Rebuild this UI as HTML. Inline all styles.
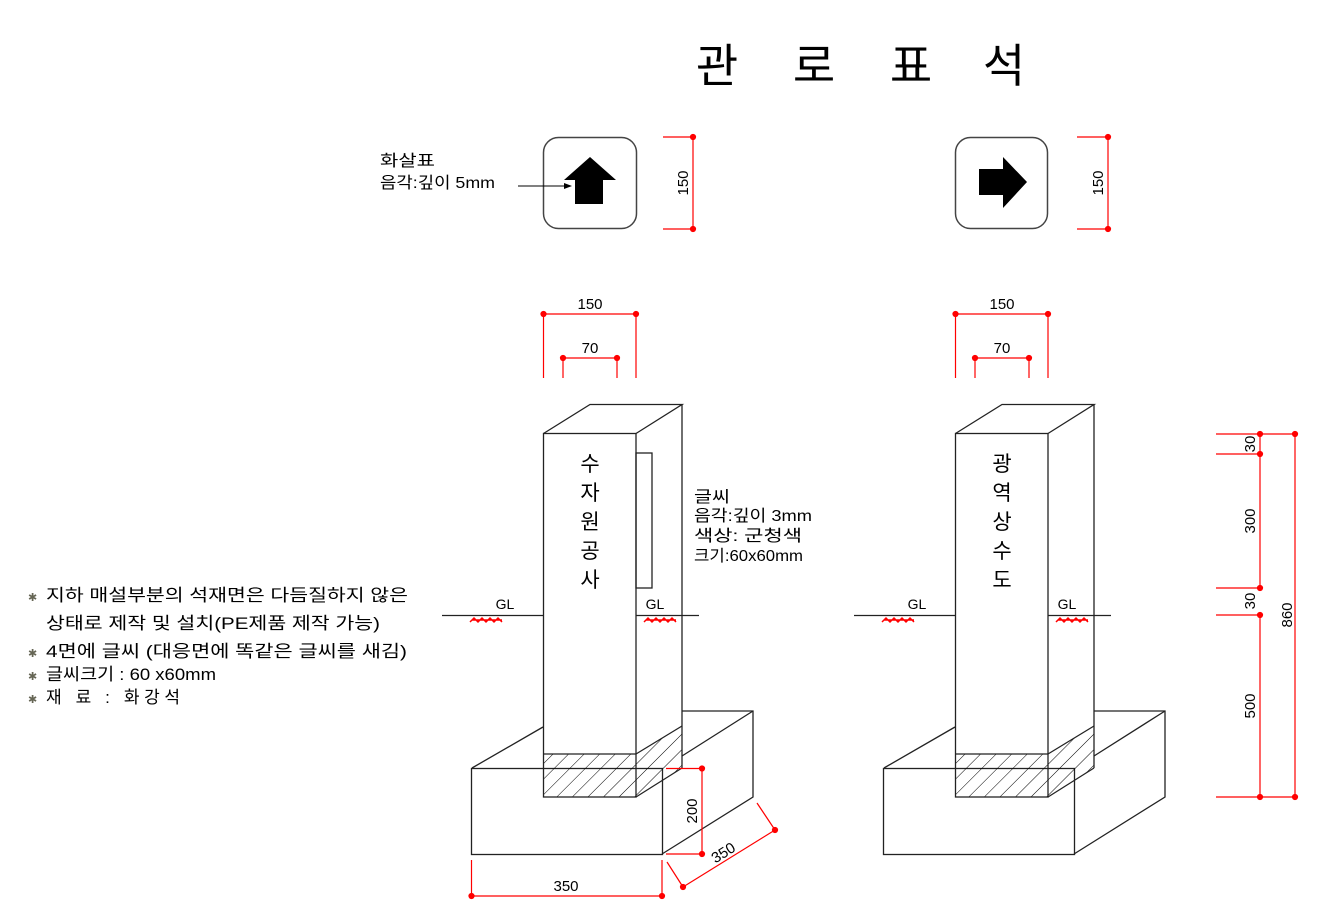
<!DOCTYPE html>
<html><head><meta charset="utf-8"><style>
html,body{margin:0;padding:0;background:#fff;}
svg{display:block;font-family:"Liberation Sans","Noto Sans CJK KR",sans-serif;}
</style></head><body>
<svg width="1341" height="923" viewBox="0 0 1341 923" xmlns="http://www.w3.org/2000/svg">
<defs>
<pattern id="h" patternUnits="userSpaceOnUse" width="11" height="11" patternTransform="rotate(45)">
<line x1="0" y1="0" x2="0" y2="11" stroke="#000" stroke-width="1"/>
</pattern>
<g id="pillar" fill="none" stroke="#222" stroke-width="1.3">
  <rect x="471.5" y="768.5" width="191" height="86"/>
  <polyline points="472,768 543,727"/>
  <polyline points="682,711 753,711 753,797 662,854"/>
  <line x1="682" y1="756" x2="753" y2="711"/>
  <rect x="543.5" y="754" width="92.5" height="43" fill="url(#h)" stroke="none"/>
  <polygon points="636,754 682,726 682,768 636,797" fill="url(#h)" stroke="none"/>
  <line x1="543.5" y1="754" x2="636" y2="754"/>
  <line x1="636" y1="754" x2="682" y2="726"/>
  <line x1="636" y1="797" x2="682" y2="768"/>
  <rect x="543.5" y="433.5" width="92.5" height="363.5"/>
  <polyline points="543.5,433.5 590,404.5 682,404.5 636,433.5"/>
  <line x1="682" y1="404.5" x2="682" y2="768"/>
  <line x1="442" y1="615.5" x2="543.5" y2="615.5"/>
  <line x1="636" y1="615.5" x2="699" y2="615.5"/>
</g>
<g id="gl">
  <text x="505" y="609" font-size="14" text-anchor="middle" fill="#000">GL</text>
  <text x="655" y="609" font-size="14" text-anchor="middle" fill="#000">GL</text>
  <path d="M470,622 l4,-4 l4,4 l4,-4 l4,4 l4,-4 l4,4 l4,-4 l4,4 M472,620 h30" stroke="#f00" stroke-width="1.5" fill="none"/>
  <path d="M644,622 l4,-4 l4,4 l4,-4 l4,4 l4,-4 l4,4 l4,-4 l4,4 M646,620 h30" stroke="#f00" stroke-width="1.5" fill="none"/>
</g>
<g id="topdim" stroke="#f00" stroke-width="1.2" fill="#f00">
  <line x1="543.5" y1="314" x2="636" y2="314"/>
  <line x1="543.5" y1="314" x2="543.5" y2="378"/>
  <line x1="636" y1="314" x2="636" y2="378"/>
  <line x1="563" y1="358" x2="617" y2="358"/>
  <line x1="563" y1="358" x2="563" y2="378"/>
  <line x1="617" y1="358" x2="617" y2="378"/>
  <circle cx="543.5" cy="314" r="2.5"/><circle cx="636" cy="314" r="2.5"/>
  <circle cx="563" cy="358" r="2.5"/><circle cx="617" cy="358" r="2.5"/>
</g>
</defs>

<g font-size="46" text-anchor="middle" fill="#000">
<text x="717" y="82">관</text><text x="814" y="82">로</text><text x="911" y="82">표</text><text x="1004" y="82">석</text>
</g>

<use href="#pillar"/>
<use href="#gl"/>
<use href="#topdim"/>
<text x="590" y="309" font-size="15" text-anchor="middle">150</text>
<text x="590" y="353" font-size="15" text-anchor="middle">70</text>
<rect x="636" y="453" width="16" height="135" fill="none" stroke="#222" stroke-width="1.3"/>
<g font-size="21" text-anchor="middle" fill="#000">
<text x="590" y="471">수</text><text x="590" y="500">자</text><text x="590" y="529">원</text><text x="590" y="558">공</text><text x="590" y="587">사</text>
</g>

<g transform="translate(412,0)">
<use href="#pillar"/>
<use href="#gl"/>
<use href="#topdim"/>
<text x="590" y="309" font-size="15" text-anchor="middle">150</text>
<text x="590" y="353" font-size="15" text-anchor="middle">70</text>
<g font-size="21" text-anchor="middle" fill="#000">
<text x="590" y="471">광</text><text x="590" y="500">역</text><text x="590" y="529">상</text><text x="590" y="558">수</text><text x="590" y="587">도</text>
</g>
</g>

<g font-size="16" fill="#000">
<text x="694" y="502" textLength="36" lengthAdjust="spacingAndGlyphs">글씨</text>
<text x="694" y="521" textLength="118" lengthAdjust="spacingAndGlyphs">음각:깊이 3mm</text>
<text x="694" y="541" textLength="108" lengthAdjust="spacingAndGlyphs">색상:  군청색</text>
<text x="694" y="561" textLength="109" lengthAdjust="spacingAndGlyphs">크기:60x60mm</text>
</g>

<g stroke="#f00" stroke-width="1.2" fill="#f00">
<line x1="471.5" y1="860" x2="471.5" y2="896"/>
<line x1="662" y1="860" x2="662" y2="896"/>
<line x1="471.5" y1="896" x2="662" y2="896"/>
<circle cx="471.5" cy="896" r="2.5"/><circle cx="662" cy="896" r="2.5"/>
<line x1="666" y1="768.5" x2="702" y2="768.5"/>
<line x1="666" y1="854" x2="702" y2="854"/>
<line x1="702" y1="768.5" x2="702" y2="854"/>
<circle cx="702" cy="768.5" r="2.5"/><circle cx="702" cy="854" r="2.5"/>
<line x1="667" y1="862" x2="683" y2="887"/>
<line x1="757" y1="803" x2="775" y2="830"/>
<line x1="683" y1="887" x2="775" y2="830"/>
<circle cx="683" cy="887" r="2.5"/><circle cx="775" cy="830" r="2.5"/>
</g>
<text x="566" y="891" font-size="15" text-anchor="middle">350</text>
<text transform="translate(697,811) rotate(-90)" font-size="15" text-anchor="middle">200</text>
<text transform="translate(726,857) rotate(-32)" font-size="15" text-anchor="middle">350</text>

<g stroke="#f00" stroke-width="1.2" fill="#f00">
<line x1="1216" y1="434" x2="1295" y2="434"/>
<line x1="1216" y1="454" x2="1260" y2="454"/>
<line x1="1216" y1="588" x2="1260" y2="588"/>
<line x1="1216" y1="615" x2="1260" y2="615"/>
<line x1="1216" y1="797" x2="1295" y2="797"/>
<line x1="1260" y1="434" x2="1260" y2="588"/>
<line x1="1260" y1="615" x2="1260" y2="797"/>
<line x1="1295" y1="434" x2="1295" y2="797"/>
<circle cx="1260" cy="434" r="2.5"/><circle cx="1295" cy="434" r="2.5"/>
<circle cx="1260" cy="454" r="2.5"/><circle cx="1260" cy="588" r="2.5"/>
<circle cx="1260" cy="615" r="2.5"/><circle cx="1260" cy="797" r="2.5"/><circle cx="1295" cy="797" r="2.5"/>
</g>
<g font-size="15" text-anchor="middle">
<text transform="translate(1255,444) rotate(-90)">30</text>
<text transform="translate(1255,521) rotate(-90)">300</text>
<text transform="translate(1255,601) rotate(-90)">30</text>
<text transform="translate(1255,706) rotate(-90)">500</text>
<text transform="translate(1292,615) rotate(-90)">860</text>
</g>

<rect x="543.5" y="137.5" width="93" height="91" rx="15" fill="none" stroke="#444" stroke-width="1.5"/>
<polygon points="590,157 616,180 603,180 603,204 575,204 575,180 564,180" fill="#000"/>
<rect x="955.5" y="137.5" width="92" height="91" rx="15" fill="none" stroke="#444" stroke-width="1.5"/>
<polygon points="1027,182 1003,208 1003,195 979,195 979,169 1003,169 1003,157" fill="#000"/>
<g stroke="#f00" stroke-width="1.2" fill="#f00">
<line x1="663" y1="137" x2="693" y2="137"/><line x1="663" y1="229" x2="693" y2="229"/><line x1="693" y1="137" x2="693" y2="229"/>
<circle cx="693" cy="137" r="2.5"/><circle cx="693" cy="229" r="2.5"/>
<line x1="1077" y1="137" x2="1108" y2="137"/><line x1="1077" y1="229" x2="1108" y2="229"/><line x1="1108" y1="137" x2="1108" y2="229"/>
<circle cx="1108" cy="137" r="2.5"/><circle cx="1108" cy="229" r="2.5"/>
</g>
<text transform="translate(688,183) rotate(-90)" font-size="15" text-anchor="middle">150</text>
<text transform="translate(1103,183) rotate(-90)" font-size="15" text-anchor="middle">150</text>
<text x="380" y="166" font-size="16" textLength="55" lengthAdjust="spacingAndGlyphs">화살표</text>
<text x="380" y="188" font-size="16" textLength="115" lengthAdjust="spacingAndGlyphs">음각:깊이 5mm</text>
<line x1="518" y1="186" x2="568" y2="186" stroke="#000" stroke-width="1"/>
<polygon points="572,186 564,183 564,189" fill="#000"/>

<g font-size="17" fill="#000">
<text x="46" y="601" textLength="362" lengthAdjust="spacingAndGlyphs">지하 매설부분의 석재면은 다듬질하지 않은</text>
<text x="46" y="629" textLength="334" lengthAdjust="spacingAndGlyphs">상태로 제작 및 설치(PE제품 제작 가능)</text>
<text x="46" y="657" textLength="361" lengthAdjust="spacingAndGlyphs">4면에 글씨 (대응면에 똑같은 글씨를 새김)</text>
<text x="46" y="680" textLength="170" lengthAdjust="spacingAndGlyphs">글씨크기 : 60 x60mm</text>
<text x="46" y="703" textLength="134" lengthAdjust="spacing">재   료 : 화강석</text>
</g>
<g fill="#665" font-size="11">
<text x="28" y="601">✱</text><text x="28" y="657">✱</text><text x="28" y="680">✱</text><text x="28" y="703">✱</text>
</g>
</svg>
</body></html>
